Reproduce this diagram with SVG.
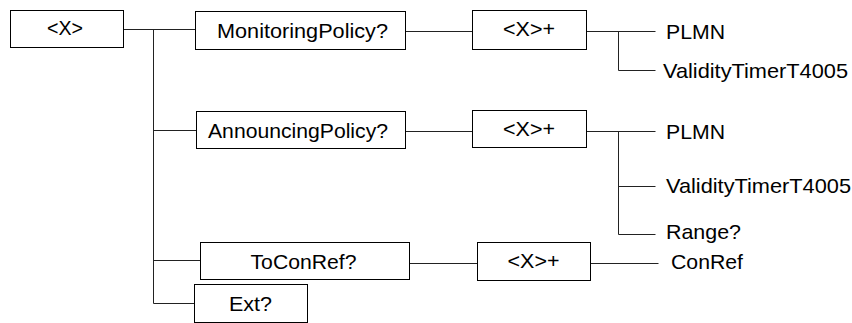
<svg xmlns="http://www.w3.org/2000/svg" width="852" height="323" viewBox="0 0 852 323">
<style>
.box{fill:#fff;stroke:#000;stroke-width:1}
.ln{fill:none;stroke:#222;stroke-width:1}
text{font-family:"Liberation Sans",Arial,sans-serif;font-size:21px;fill:#000}
.c{text-anchor:middle}
.s{font-size:20px}
</style>
<rect width="852" height="323" fill="#fff"/>
<g id="connectors">
<path class="ln" d="M123.5,29.5H195.5M153.5,29.5V303.5M153.5,130.5H196.5M153.5,260.5H200.5M153.5,303.5H194.5"/>
<path class="ln" d="M405.5,31.5H472.5M586.5,31.5H655.5M618.5,31.5V70.5H655.5"/>
<path class="ln" d="M405.5,131.5H472.5M586.5,131.5H655.5M618.5,131.5V234.5H655.5M618.5,186.5H655.5"/>
<path class="ln" d="M409.5,263.5H477.5M590.5,263.5H658.5"/>
</g>
<g id="root"><rect class="box" x="10.5" y="10.5" width="113" height="37"/><text class="c s" x="65" y="35" textLength="36" lengthAdjust="spacingAndGlyphs">&lt;X&gt;</text></g>
<g id="monitoring"><rect class="box" x="195.5" y="11.5" width="210" height="38"/><text class="c" x="302.5" y="37.5" textLength="171" lengthAdjust="spacingAndGlyphs">MonitoringPolicy?</text></g>
<g id="mon-x"><rect class="box" x="472.5" y="10.5" width="114" height="39"/><text class="c s" x="529" y="36" textLength="52" lengthAdjust="spacingAndGlyphs">&lt;X&gt;+</text></g>
<g id="mon-plmn"><text x="666" y="38.5" textLength="59" lengthAdjust="spacingAndGlyphs">PLMN</text></g>
<g id="mon-timer"><text x="663" y="77.5" textLength="185" lengthAdjust="spacingAndGlyphs">ValidityTimerT4005</text></g>
<g id="announcing"><rect class="box" x="196.5" y="111.5" width="209" height="37"/><text class="c" x="298" y="137.5" textLength="180" lengthAdjust="spacingAndGlyphs">AnnouncingPolicy?</text></g>
<g id="ann-x"><rect class="box" x="472.5" y="110.5" width="114" height="37"/><text class="c s" x="529" y="136" textLength="52" lengthAdjust="spacingAndGlyphs">&lt;X&gt;+</text></g>
<g id="ann-plmn"><text x="666" y="138.5" textLength="59" lengthAdjust="spacingAndGlyphs">PLMN</text></g>
<g id="ann-timer"><text x="666" y="192.5" textLength="185" lengthAdjust="spacingAndGlyphs">ValidityTimerT4005</text></g>
<g id="ann-range"><text x="666" y="239" textLength="75" lengthAdjust="spacingAndGlyphs">Range?</text></g>
<g id="toconref"><rect class="box" x="200.5" y="242.5" width="209" height="37"/><text class="c" x="303.5" y="268.5" textLength="106" lengthAdjust="spacingAndGlyphs">ToConRef?</text></g>
<g id="tcr-x"><rect class="box" x="477.5" y="242.5" width="113" height="38"/><text class="c s" x="533.5" y="268" textLength="52" lengthAdjust="spacingAndGlyphs">&lt;X&gt;+</text></g>
<g id="conref"><text x="671" y="269" textLength="72" lengthAdjust="spacingAndGlyphs">ConRef</text></g>
<g id="ext"><rect class="box" x="194.5" y="284.5" width="113" height="38"/><text class="c" x="250.5" y="310.5" textLength="43" lengthAdjust="spacingAndGlyphs">Ext?</text></g>
</svg>
